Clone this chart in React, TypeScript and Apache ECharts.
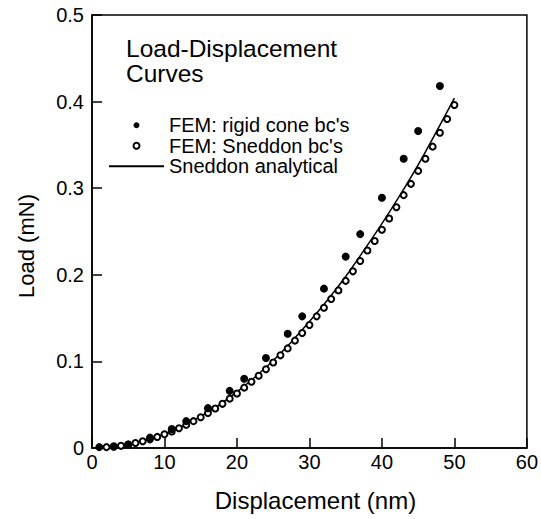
import React, { useEffect, useRef } from "react";
import * as echarts from "echarts";

const FONT = "'Liberation Sans', Arial, Helvetica, sans-serif";

const rigidX = [1, 3, 5, 8, 11, 13, 16, 19, 21, 24, 27, 29, 32, 35, 37, 40, 43, 45, 48];
const rigidY = [0.001, 0.002, 0.004, 0.012, 0.022, 0.031, 0.046, 0.066, 0.08, 0.104, 0.132, 0.152, 0.184, 0.221, 0.247, 0.289, 0.334, 0.366, 0.418];

const sneddonX = [2, 3, 4, 5, 6, 7, 8, 9, 10, 11, 12, 13, 14, 15, 16, 17, 18, 19, 20, 21, 22, 23, 24, 25, 26, 27, 28, 29, 30, 31, 32, 33, 34, 35, 36, 37, 38, 39, 40, 41, 42, 43, 44, 45, 46, 47, 48, 49, 50];
const sneddonY = [0.001, 0.0014, 0.0025, 0.004, 0.0057, 0.0078, 0.01, 0.0128, 0.0158, 0.019, 0.0228, 0.0267, 0.031, 0.0355, 0.0405, 0.0457, 0.051, 0.057, 0.063, 0.0697, 0.0765, 0.0835, 0.091, 0.0988, 0.107, 0.115, 0.124, 0.1328, 0.142, 0.152, 0.162, 0.172, 0.182, 0.193, 0.204, 0.216, 0.228, 0.239, 0.252, 0.265, 0.278, 0.292, 0.305, 0.32, 0.334, 0.348, 0.364, 0.38, 0.396];

const analyticX = [0, 2.5, 5, 7.5, 10, 12.5, 15, 17.5, 20, 22.5, 25, 27.5, 30, 32.5, 35, 37.5, 40, 42.5, 45, 47.5, 50];
const analyticY = [0, 0.001, 0.004, 0.009, 0.0162, 0.0253, 0.0365, 0.0496, 0.0648, 0.082, 0.101, 0.1225, 0.146, 0.171, 0.198, 0.228, 0.259, 0.292, 0.327, 0.365, 0.404];

const seriesNames = ["FEM: rigid cone bc's", "FEM: Sneddon bc's", "Sneddon analytical"];
const titleText = "Load-Displacement\nCurves";
const xName = "Displacement (nm)";
const yName = "Load (mN)";

const zip = (xs: number[], ys: number[]) => xs.map((x, i) => [x, ys[i]]);

export default function App() {
  const ref = useRef<HTMLDivElement>(null);
  useEffect(() => {
    if (!ref.current) return;
    const chart = echarts.init(ref.current, null, { renderer: "svg" });
    chart.setOption({
      animation: false,
      backgroundColor: "#ffffff",
      textStyle: { fontFamily: FONT, color: "#000" },
      title: {
        text: titleText,
        left: 126,
        top: 36,
        padding: 0,
        textStyle: { fontFamily: FONT, fontSize: 24.5, fontWeight: "normal", lineHeight: 25, color: "#000" },
      },
      legend: {
        orient: "vertical",
        left: 108,
        top: 115,
        padding: 0,
        itemGap: 0,
        itemWidth: 55,
        itemHeight: 6,
        data: [
          { name: seriesNames[0], icon: "circle" },
          { name: seriesNames[1], icon: "emptyCircle" },
          { name: seriesNames[2], itemStyle: { opacity: 0 } },
        ],
        textStyle: { fontFamily: FONT, fontSize: 20, lineHeight: 20.5, color: "#000" },
      },
      graphic: [
        {
          type: "text",
          x: 26,
          y: 246,
          rotation: Math.PI / 2,
          style: {
            text: yName,
            fontFamily: FONT,
            fontSize: 22,
            fill: "#000",
            align: "center",
            verticalAlign: "middle",
          },
        },
      ],
      grid: {
        left: 92,
        right: 13,
        top: 15,
        bottom: 71,
        show: true,
        borderColor: "#000",
        borderWidth: 1.5,
        backgroundColor: "transparent",
      },
      xAxis: {
        type: "value",
        min: 0,
        max: 60,
        interval: 10,
        name: xName,
        nameLocation: "middle",
        nameGap: 40,
        nameTextStyle: { fontFamily: FONT, fontSize: 24, color: "#000", padding: [0, 0, 0, 12] },
        axisLine: { show: true, lineStyle: { color: "#000", width: 1.5 } },
        axisTick: { show: true, inside: true, length: 10, lineStyle: { color: "#000", width: 1.5 } },
        axisLabel: { fontFamily: FONT, fontSize: 20, color: "#000", margin: 4 },
        splitLine: { show: false },
      },
      yAxis: {
        type: "value",
        min: 0,
        max: 0.5,
        interval: 0.1,
        axisLine: { show: true, lineStyle: { color: "#000", width: 1.5 } },
        axisTick: { show: true, inside: true, length: 10, lineStyle: { color: "#000", width: 1.5 } },
        axisLabel: { fontFamily: FONT, fontSize: 20, color: "#000", margin: 8 },
        splitLine: { show: false },
      },
      series: [
        {
          name: seriesNames[2],
          type: "line",
          data: zip(analyticX, analyticY),
          smooth: 0.3,
          showSymbol: false,
          symbol: "none",
          lineStyle: { color: "#000", width: 1.5 },
          itemStyle: { color: "#000" },
          z: 2,
        },
        {
          name: seriesNames[1],
          type: "scatter",
          data: zip(sneddonX, sneddonY),
          symbol: "emptyCircle",
          symbolSize: 6,
          itemStyle: { color: "#000", borderColor: "#000", borderWidth: 1.2, opacity: 1 },
          z: 3,
        },
        {
          name: seriesNames[0],
          type: "scatter",
          data: zip(rigidX, rigidY),
          symbol: "circle",
          symbolSize: 8,
          itemStyle: { color: "#000", opacity: 1 },
          z: 4,
        },
      ],
    });
    return () => chart.dispose();
  }, []);
  return (
    <div
      ref={ref}
      style={{ position: "fixed", left: 0, top: 0, width: 541, height: 519, background: "#fff" }}
    />
  );
}
